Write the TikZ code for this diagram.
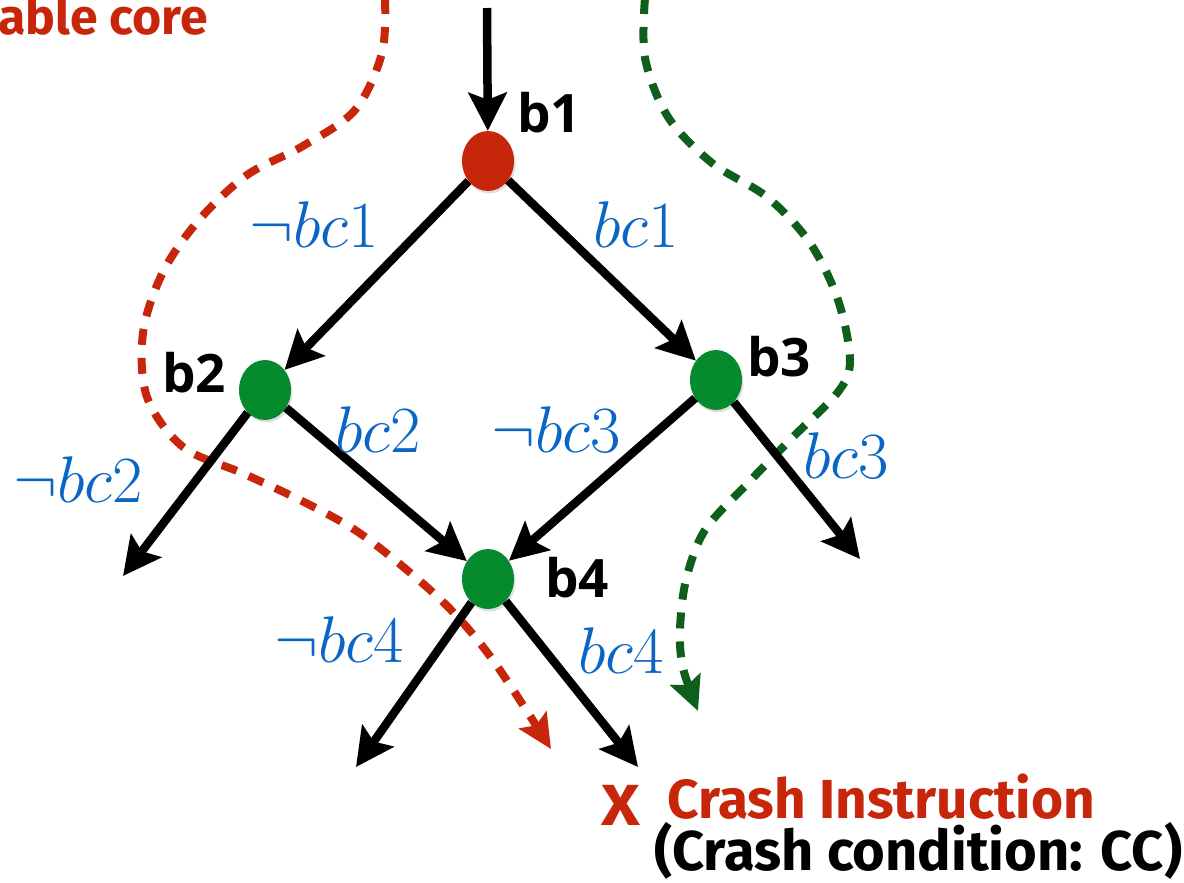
\RequirePackage{fix-cm}
\documentclass[tikz,border=0pt]{standalone}
\usepackage{fontspec}
\newfontfamily\bsans{Fira Sans}
\newfontfamily\osans{Open Sans}
\usetikzlibrary{arrows.meta,shapes.geometric,shadows}
\definecolor{cred}{HTML}{C8260A}
\definecolor{cgreen}{HTML}{058A2E}
\definecolor{dgreen}{HTML}{0E5F1C}
\definecolor{cblue}{HTML}{0A66C4}
\tikzset{
  blk/.style={line width=8.5pt, -{Stealth[length=38pt,width=38pt,inset=7pt]}},
  dpath/.style={line width=8pt, dash pattern=on 16pt off 13pt, -{Stealth[length=34pt,width=32pt,inset=6pt]}},
  vert/.style={ellipse, minimum width=52pt, minimum height=60pt, inner sep=0pt,
    drop shadow={opacity=0.25, shadow xshift=1.5pt, shadow yshift=-2.5pt}},
  blab/.style={font=\fontsize{53}{53}\selectfont\osans\bfseries, anchor=base west, inner sep=0pt},
  bl/.style={text=cblue, font=\fontsize{66}{66}\selectfont, anchor=base west, inner sep=0pt},
  ttl/.style={font=\fontsize{55}{55}\selectfont\bsans\bfseries, inner sep=0pt}
}
\begin{document}
\begin{tikzpicture}[x=1pt,y=-1pt]
\useasboundingbox (0,0) rectangle (1184,883);
% dashed paths (behind)
\draw[dpath, cred] plot[smooth, tension=0.55] coordinates {(385,-2) (382,53) (355,110) (303,146) (247,175) (199,220) (163,272) (143,333) (147,397) (183,447) (242,473) (300,500) (355,530) (407,570) (453,612) (495,663) (551,749)};
\draw[dpath, dgreen] plot[smooth, tension=0.55] coordinates {(645,-2) (645,58) (668,117) (712,163) (767,197) (810,243) (838,300) (850,360) (838,392) (793,437) (748,483) (705,530) (686,580) (680,630) (683,668) (698,711)};
% nodes
\node[vert, fill=cred] (b1) at (488,161) {};
\node[vert, fill=cgreen] (b2) at (265,390) {};
\node[vert, fill=cgreen] (b3) at (716,380) {};
\node[vert, fill=cgreen] (b4) at (488,579) {};
\coordinate (in) at (487,8);
\coordinate (o2) at (123,576);
\coordinate (o3) at (860,559);
\coordinate (o4l) at (356,767);
\coordinate (o4r) at (638,767);
% edges
\draw[blk] (in) -- (b1);
\draw[blk] (b1) -- (b2);
\draw[blk] (b1) -- (b3);
\draw[blk] (b2) -- (o2);
\draw[blk] (b2) -- (b4);
\draw[blk] (b3) -- (b4);
\draw[blk] (b3) -- (o3);
\draw[blk] (b4) -- (o4l);
\draw[blk] (b4) -- (o4r);
% node labels
\node[blab] (l1) at (517,132) {b1};
\node[blab] (l2) at (162,392) {b2};
\node[blab] (l3) at (747,376) {b3};
\node[blab] (l4) at (545,597) {b4};
% condition labels
\node[bl] (c1n) at (249,247) {$\neg bc1$};
\node[bl] (c1) at (593,247) {$bc1$};
\node[bl] (c2) at (335,452) {$bc2$};
\node[bl] (c3n) at (491,452) {$\neg bc3$};
\node[bl] (c2n) at (13,502) {$\neg bc2$};
\node[bl] (c3) at (803,478) {$bc3$};
\node[bl] (c4n) at (274,662) {$\neg bc4$};
\node[bl] (c4) at (578,673) {$bc4$};
% titles
\node[ttl, text=cred, anchor=base east] (core) at (208,35) {\fontsize{50}{50}\selectfont able core};
\node[ttl, text=cred, anchor=base west, xscale=1.15] (x) at (601,825) {\fontsize{58}{58}\selectfont X};
\node[ttl, text=cred, anchor=base west] (crash) at (667,818) {Crash Instruction};
\node[ttl, anchor=base west] (cc) at (654,870) {\fontsize{56}{56}\selectfont (Crash condition: CC)};
\end{tikzpicture}
\end{document}
